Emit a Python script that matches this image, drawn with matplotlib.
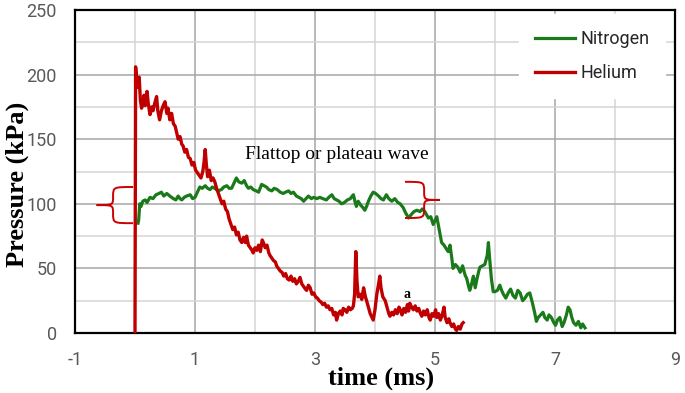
import matplotlib
matplotlib.use("Agg")
import matplotlib.pyplot as plt
import numpy as np
from matplotlib.path import Path
from matplotlib.patches import PathPatch
from matplotlib.ticker import MultipleLocator

plt.rcParams['axes.unicode_minus'] = False

# ---------------- data ----------------
helium_t = [0.00, 0.01, 0.03, 0.05, 0.07, 0.09, 0.11, 0.13, 0.15, 0.17, 0.20, 0.22, 0.25, 0.28, 0.30,
            0.33, 0.36, 0.38, 0.41, 0.44, 0.47, 0.50, 0.53, 0.55, 0.58, 0.61, 0.64, 0.67, 0.69, 0.72,
            0.75, 0.78, 0.80, 0.83, 0.86, 0.89, 0.92, 0.95, 0.98, 1.01, 1.04, 1.07, 1.10, 1.13, 1.15,
            1.17, 1.19, 1.21, 1.24, 1.27, 1.30, 1.33, 1.36, 1.39, 1.42, 1.45, 1.48, 1.51, 1.54, 1.57,
            1.60, 1.63, 1.66, 1.69, 1.72, 1.75, 1.78, 1.81, 1.84, 1.86, 1.89, 1.92, 1.95, 1.97, 2.00,
            2.03, 2.06, 2.09, 2.12, 2.14, 2.17, 2.20, 2.23, 2.25, 2.28, 2.31, 2.34, 2.36, 2.39, 2.42,
            2.45, 2.48, 2.51, 2.54, 2.57, 2.60, 2.63, 2.66, 2.69, 2.72, 2.75, 2.78, 2.81, 2.84, 2.86,
            2.89, 2.92, 2.95, 2.98, 3.01, 3.04, 3.07, 3.10, 3.13, 3.16, 3.19, 3.22, 3.25, 3.28, 3.31,
            3.34, 3.36, 3.39, 3.42, 3.45, 3.47, 3.50, 3.53, 3.56, 3.59, 3.62, 3.64, 3.66, 3.68, 3.70,
            3.72, 3.75, 3.78, 3.81, 3.84, 3.86, 3.89, 3.92, 3.95, 3.97, 4.00, 4.03, 4.06, 4.08, 4.10,
            4.13, 4.17, 4.20, 4.23, 4.25, 4.28, 4.31, 4.34, 4.37, 4.40, 4.42, 4.45, 4.48, 4.51, 4.54,
            4.56, 4.58, 4.61, 4.64, 4.67, 4.70, 4.73, 4.75, 4.78, 4.81, 4.84, 4.87, 4.90, 4.92, 4.95,
            4.98, 5.01, 5.03, 5.06, 5.09, 5.12, 5.15, 5.17, 5.20, 5.23, 5.25, 5.28, 5.31, 5.34, 5.36,
            5.39, 5.42, 5.45, 5.47]
helium_p = [0, 206, 195, 190, 198, 180, 174, 178, 184, 176, 187, 178, 169, 175, 172,
            178, 183, 172, 165, 172, 176, 179, 170, 174, 165, 170, 162, 160, 156, 150,
            152, 146, 145, 140, 142, 136, 135, 130, 132, 126, 124, 122, 120, 125, 132,
            142, 130, 121, 126, 118, 120, 117, 112, 108, 104, 100, 102, 96, 94, 88,
            84, 80, 82, 76, 78, 72, 70, 74, 70, 75, 68, 66, 64, 62, 66,
            64, 68, 63, 72, 70, 66, 68, 62, 60, 58, 56, 55, 52, 50, 48,
            47, 44, 46, 42, 41, 44, 40, 42, 38, 40, 43, 38, 36, 34, 33,
            37, 35, 30, 31, 28, 27, 25, 24, 22, 23, 20, 21, 18, 19, 14,
            16, 10, 15, 17, 14, 19, 18, 16, 20, 18, 19, 21, 30, 63, 40,
            28, 30, 26, 35, 28, 25, 20, 15, 12, 10, 18, 30, 38, 44, 35,
            28, 25, 20, 15, 13, 16, 14, 18, 15, 20, 18, 14, 19, 16, 22,
            17, 23, 20, 18, 21, 17, 19, 16, 13, 17, 14, 18, 12, 10, 15,
            13, 18, 12, 15, 10, 14, 20, 12, 8, 11, 8, 5, 7, 3, 2,
            5, 3, 7, 8]

nitrogen_t = [0.05, 0.06, 0.08, 0.10, 0.13, 0.17, 0.20, 0.25, 0.30, 0.35, 0.40, 0.44, 0.48, 0.53, 0.58,
              0.64, 0.68, 0.72, 0.75, 0.78, 0.82, 0.86, 0.92, 0.96, 1.00, 1.04, 1.08, 1.12, 1.17, 1.21,
              1.25, 1.29, 1.33, 1.38, 1.44, 1.48, 1.53, 1.57, 1.61, 1.65, 1.69, 1.73, 1.78, 1.82, 1.86,
              1.89, 1.93, 1.97, 2.02, 2.06, 2.11, 2.15, 2.19, 2.23, 2.28, 2.32, 2.37, 2.42, 2.47, 2.51,
              2.56, 2.60, 2.64, 2.69, 2.73, 2.77, 2.81, 2.85, 2.89, 2.94, 2.98, 3.03, 3.08, 3.13, 3.19,
              3.23, 3.28, 3.32, 3.36, 3.40, 3.44, 3.49, 3.54, 3.59, 3.62, 3.64, 3.67, 3.69, 3.72, 3.76,
              3.80, 3.83, 3.86, 3.89, 3.93, 3.97, 4.01, 4.06, 4.10, 4.14, 4.19, 4.23, 4.28, 4.33, 4.38,
              4.42, 4.47, 4.51, 4.56, 4.61, 4.65, 4.70, 4.75, 4.79, 4.83, 4.89, 4.93, 4.97, 5.03, 5.07,
              5.11, 5.15, 5.19, 5.22, 5.25, 5.28, 5.30, 5.34, 5.38, 5.42, 5.46, 5.50, 5.53, 5.56, 5.58,
              5.61, 5.64, 5.67, 5.70, 5.73, 5.75, 5.79, 5.83, 5.87, 5.89, 5.91, 5.94, 5.97, 6.00, 6.04,
              6.08, 6.11, 6.14, 6.18, 6.22, 6.26, 6.30, 6.34, 6.38, 6.42, 6.46, 6.50, 6.54, 6.58, 6.62,
              6.66, 6.69, 6.72, 6.76, 6.80, 6.83, 6.87, 6.90, 6.94, 6.98, 7.01, 7.04, 7.08, 7.12, 7.15,
              7.19, 7.22, 7.25, 7.28, 7.31, 7.35, 7.39, 7.43, 7.46, 7.50]
nitrogen_p = [85, 87, 100, 98, 102, 103, 101, 105, 104, 107, 108, 109, 106, 108, 106,
              104, 103, 106, 104, 103, 105, 106, 107, 104, 105, 109, 113, 112, 114, 112,
              111, 113, 112, 110, 111, 113, 114, 112, 112, 116, 120, 117, 116, 118, 114,
              112, 113, 111, 110, 109, 115, 114, 113, 111, 110, 112, 111, 109, 108, 109,
              110, 108, 109, 106, 105, 104, 102, 104, 106, 104, 105, 104, 105, 104, 103,
              105, 107, 104, 103, 102, 100, 101, 103, 104, 106, 107, 101, 98, 102, 99,
              97, 95, 98, 102, 106, 109, 108, 106, 104, 103, 107, 104, 102, 104, 101,
              100, 97, 93, 89, 92, 94, 95, 94, 96, 94, 89, 90, 84, 90, 80,
              70, 68, 65, 63, 68, 58, 50, 53, 51, 47, 52, 45, 42, 36, 33,
              38, 44, 35, 42, 48, 51, 52, 53, 60, 70, 58, 42, 32, 32, 33,
              37, 33, 30, 27, 31, 34, 29, 27, 33, 31, 25, 27, 30, 31, 24,
              16, 9, 12, 14, 16, 12, 10, 14, 12, 8, 6, 10, 12, 5, 8,
              14, 20, 18, 12, 8, 6, 9, 4, 7, 4]

x_ticks = [-1, 1, 3, 5, 7, 9]
y_ticks = [0, 50, 100, 150, 200, 250]

# ---------------- figure ----------------
fig = plt.figure(figsize=(6.85, 3.93), dpi=100)
ax = fig.add_axes([75 / 685, 60 / 393, 600 / 685, 323 / 393])

ax.set_xlim(-1, 9)
ax.set_ylim(0, 250)
ax.set_xticks(x_ticks)
ax.set_yticks(y_ticks)
ax.xaxis.set_minor_locator(MultipleLocator(1))
ax.yaxis.set_minor_locator(MultipleLocator(25))
ax.grid(True, which='major', color='#a6a6a6', lw=1.1)
ax.grid(True, which='minor', color='#d4d4d4', lw=1.1)
ax.set_axisbelow(True)
ax.tick_params(which='both', length=0)
ax.tick_params(axis='both', labelsize=13, labelcolor='#595959', pad=13)
for lab in ax.get_xticklabels() + ax.get_yticklabels():
    lab.set_family('Roboto')

for s in ax.spines.values():
    s.set_color('black')
    s.set_linewidth(1.6)

ax.plot(nitrogen_t, nitrogen_p, color='#1a7a1a', lw=2.3, label='Nitrogen', zorder=3)
ax.plot(helium_t, helium_p, color='#c00000', lw=2.4, label='Helium', zorder=4)

ax.set_xlabel('time (ms)', family='Liberation Serif', fontweight='bold', fontsize=19)
ax.set_ylabel('Pressure (kPa)', family='Liberation Serif', fontweight='bold', fontsize=19)
ax.xaxis.set_label_coords(0.51, -0.14)
ax.xaxis.label.set_va('center')
ax.yaxis.set_label_coords(-0.097, 0.46)
ax.yaxis.label.set_va('center')

leg = ax.legend(loc='upper right', bbox_to_anchor=(0.99, 1.0), frameon=True, fancybox=False,
                prop={'family': 'Roboto', 'size': 13}, handlelength=2.2, handletextpad=0.3,
                labelspacing=0.9, borderpad=0.9, borderaxespad=0.2)
leg.get_frame().set_edgecolor('white')
leg.get_frame().set_facecolor('white')
leg.get_frame().set_alpha(1)
for t in leg.get_texts():
    t.set_color('#262626')


def brace(x_end, x_tip, top, bot, color='#cc0000'):
    mid = (top + bot) / 2.0
    xm = x_end + 0.55 * (x_tip - x_end)
    h = top - mid
    verts = [(x_end, top),
             (xm, top), (xm, top), (xm, mid + 0.45 * h),
             (xm, mid), (xm, mid), (x_tip, mid),
             (xm, mid), (xm, mid), (xm, mid - 0.45 * h),
             (xm, bot), (xm, bot), (x_end, bot)]
    codes = [Path.MOVETO] + [Path.CURVE4] * 12
    ax.add_patch(PathPatch(Path(verts, codes), fill=False, edgecolor=color, lw=1.4, zorder=5))


brace(-0.03, -0.64, 113, 85)
brace(4.5, 5.08, 117, 89)

ax.text(3.37, 138, 'Flattop or plateau wave', family='Liberation Serif', fontsize=14,
        ha='center', va='center', color='black')
ax.text(4.53, 30, 'a', family='Liberation Serif', fontweight='bold', fontsize=10,
        ha='center', va='center', color='black')

fig.savefig('out.png', dpi=100)
